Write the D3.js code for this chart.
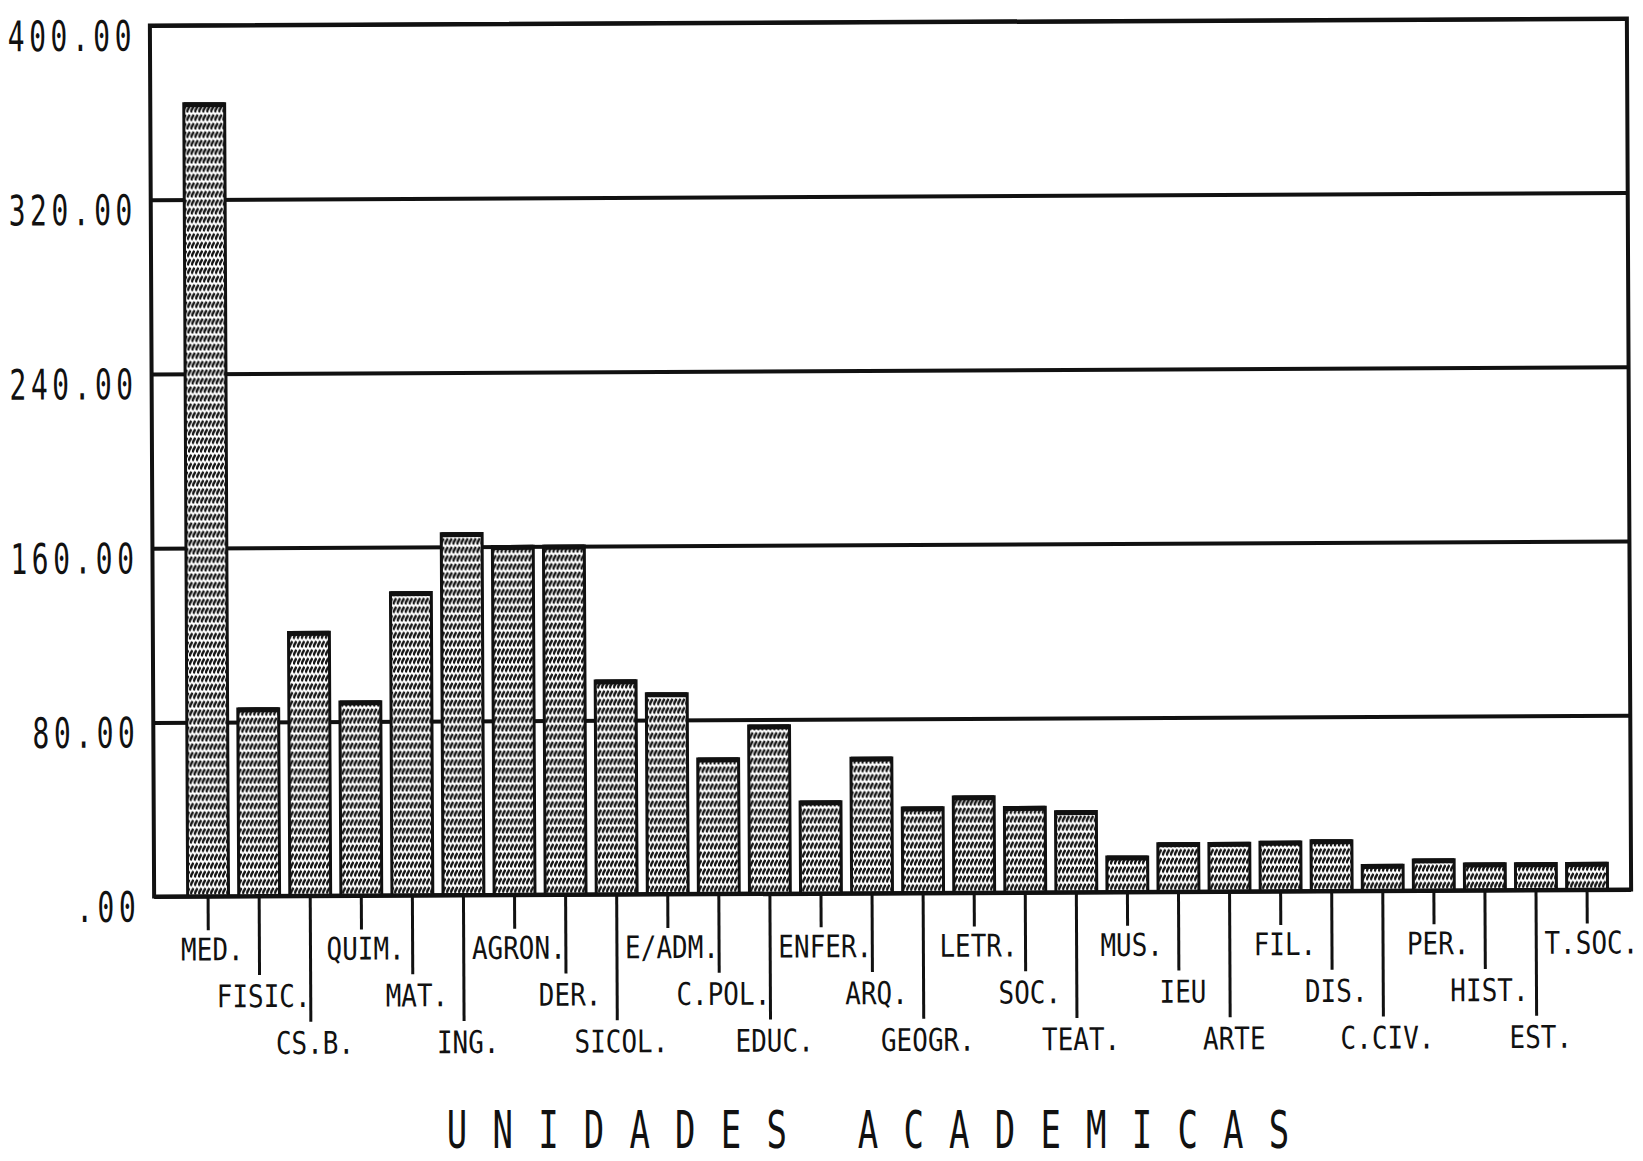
<!DOCTYPE html>
<html>
<head>
<meta charset="utf-8">
<script src="https://cdn.jsdelivr.net/npm/d3@7"></script>
<style>
  body { margin: 0; background: #fff; }
  text { font-family: "DejaVu Sans Mono", monospace; fill: #111; }
</style>
</head>
<body>
<div id="chart-container"></div>
<script>
// unidades academicas y sus valores
const categories = ["MED.","FISIC.","CS.B.","QUIM.","MAT.","ING.","AGRON.","DER.","SICOL.","E/ADM.",
  "C.POL.","EDUC.","ENFER.","ARQ.","GEOGR.","LETR.","SOC.","TEAT.","MUS.","IEU",
  "ARTE","FIL.","DIS.","C.CIV.","PER.","HIST.","EST.","T.SOC."];
const values = [364,86,121,89,139,166,160,160,98,92,
  62,77,42,62,39,44,39,37,16,22,
  22,22.5,23,11.6,14,12,12,12];
const yTicks = [0,80,160,240,320,400];
const yTickLabels = [".00","80.00","160.00","240.00","320.00","400.00"];
const title = "UNIDADES  ACADEMICAS";

const width = 1643, height = 1161;
const plotLeft = 152, plotRight = 1629, plotTop = 22, plotBottom = 893;

const svg = d3.select('#chart-container').append('svg')
  .attr('width', width)
  .attr('height', height);

// trama de las barras (puntos diagonales)
const pat = svg.append('defs').append('pattern')
  .attr('id', 'trama')
  .attr('patternUnits', 'userSpaceOnUse')
  .attr('width', 4)
  .attr('height', 8.5);
pat.append('rect').attr('width', 4).attr('height', 8.5).attr('fill', '#fff');
pat.append('path')
  .attr('d', 'M0.6,7 C1.2,4 2.2,3.5 3.4,0.6')
  .attr('fill', 'none')
  .attr('stroke', '#151515')
  .attr('stroke-width', 2.5);

// la hoja esta un poco girada
const chart = svg.append('g')
  .attr('transform', `rotate(-0.28, ${(plotLeft + plotRight) / 2}, ${(plotTop + plotBottom) / 2})`);

const x = d3.scaleBand()
  .domain(categories)
  .range([175.3, 1615.6])
  .paddingInner(0.2)
  .paddingOuter(0.2);

const y = d3.scaleLinear()
  .domain([0, 400])
  .range([plotBottom, plotTop]);

// lineas horizontales
chart.append('g')
  .attr('transform', `translate(${plotLeft},0)`)
  .call(d3.axisLeft(y).tickValues(yTicks).tickSize(-(plotRight - plotLeft)).tickFormat(''))
  .call(g => g.select('.domain').remove())
  .selectAll('line')
  .attr('stroke', '#111')
  .attr('stroke-width', 4);

// etiquetas del eje y
chart.append('g').selectAll('text')
  .data(yTicks)
  .join('text')
  .attr('text-anchor', 'end')
  .attr('transform', (d) => `translate(138,${y(d) + 25}) scale(1,1.5)`)
  .attr('font-size', 28)
  .attr('letter-spacing', 4.5)
  .text((d, i) => yTickLabels[i]);

// barras
chart.append('g').selectAll('rect')
  .data(values)
  .join('rect')
  .attr('x', (d, i) => x(categories[i]))
  .attr('y', (d) => y(d))
  .attr('width', x.bandwidth())
  .attr('height', (d) => plotBottom - y(d))
  .attr('fill', 'url(#trama)')
  .attr('stroke', '#111')
  .attr('stroke-width', 3);

// borde superior mas grueso
chart.append('g').selectAll('line')
  .data(values)
  .join('line')
  .attr('x1', (d, i) => x(categories[i]))
  .attr('x2', (d, i) => x(categories[i]) + x.bandwidth())
  .attr('y1', (d) => y(d) + 1)
  .attr('y2', (d) => y(d) + 1)
  .attr('stroke', '#111')
  .attr('stroke-width', 5);

// marco
chart.append('path')
  .attr('d', `M${plotLeft},${plotBottom} L${plotLeft},${plotTop} L${plotRight},${plotTop} L${plotRight},${plotBottom} Z`)
  .attr('fill', 'none')
  .attr('stroke', '#111')
  .attr('stroke-width', 4);

// marcas y etiquetas del eje x en tres filas
const tickLen = [34, 79, 126];
const labelBase = [64, 111, 158];
const xlab = chart.append('g').selectAll('g')
  .data(categories)
  .join('g')
  .attr('transform', (d) => `translate(${x(d) + x.bandwidth() / 2},${plotBottom})`);
xlab.append('line')
  .attr('y1', 0)
  .attr('y2', (d, i) => tickLen[i % 3])
  .attr('stroke', '#111')
  .attr('stroke-width', 3);
xlab.append('text')
  .attr('text-anchor', 'middle')
  .attr('font-size', 26)
  .attr('transform', (d, i) => `translate(4,${labelBase[i % 3]}) scale(1,1.2)`)
  .text((d) => d);

// titulo
const titleSpacing = 25.2;
svg.append('text')
  .attr('text-anchor', 'middle')
  .attr('font-size', 34)
  .attr('letter-spacing', titleSpacing)
  .attr('transform', `translate(${868 + titleSpacing / 2},1148) scale(1,1.5)`)
  .text(title);
</script>
</body>
</html>
